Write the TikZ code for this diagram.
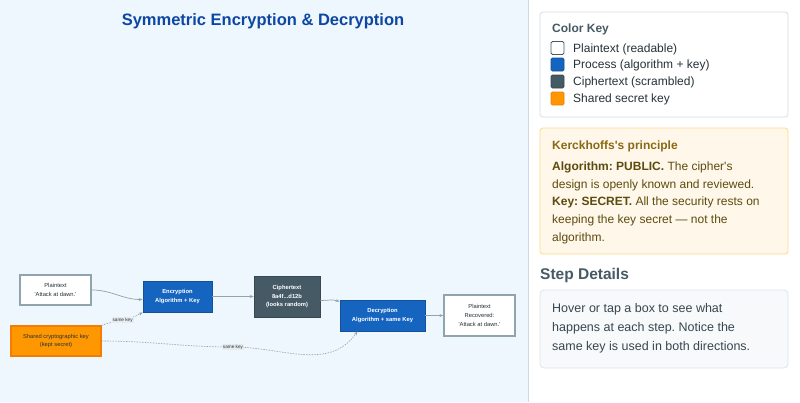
\documentclass[tikz,border=0pt]{standalone}
\usepackage{fontspec}
\setmainfont{Liberation Sans}
\usetikzlibrary{arrows.meta}
\frenchspacing
\definecolor{leftbg}{HTML}{EEF6FE}
\definecolor{panelline}{HTML}{CFD8E2}
\definecolor{titleblue}{HTML}{0D47A1}
\definecolor{procblue}{HTML}{1565C0}
\definecolor{cipher}{HTML}{455A64}
\definecolor{keyorange}{HTML}{FF9800}
\definecolor{keyborder}{HTML}{F57C00}
\definecolor{plainborder}{HTML}{90A4AE}
\definecolor{edgegray}{HTML}{90A4AE}
\definecolor{textdark}{HTML}{263238}
\definecolor{keyboxborder}{HTML}{D5DDE6}
\definecolor{kbg}{HTML}{FFF8EA}
\definecolor{kborder}{HTML}{FFD98A}
\definecolor{ktext}{HTML}{5D4A0E}
\definecolor{ktitle}{HTML}{8A6914}
\definecolor{stepbg}{HTML}{F7F9FB}
\definecolor{stepborder}{HTML}{DDE5EE}
\definecolor{steptext}{HTML}{37474F}
\definecolor{labelbg}{HTML}{E8ECEF}
\tikzset{
  box/.style={rectangle, inner sep=0pt, align=center, font=\fontsize{5.8}{8.7}\selectfont},
  plainbox/.style={box, fill=white, draw=plainborder, line width=1.2pt, text=textdark},
  procbox/.style={box, fill=procblue, draw=procblue!80!black, line width=0.6pt, text=white, font=\fontsize{5.8}{8.7}\selectfont\bfseries},
  cipherbox/.style={box, fill=cipher, draw=cipher!80!black, line width=0.6pt, text=white, font=\fontsize{5.8}{8.7}\selectfont\bfseries},
  keybox/.style={box, fill=keyorange, draw=keyborder, line width=1.2pt, text=textdark},
  flow/.style={draw=edgegray, line width=0.7pt, -{Stealth[length=4pt,width=3pt]}},
  keyflow/.style={draw=edgegray, line width=0.6pt, dash pattern=on 1.5pt off 1.2pt, -{Stealth[length=4pt,width=3pt]}},
  keylabel/.style={fill=labelbg, inner sep=1pt, font=\fontsize{4.7}{5}\selectfont, text=textdark},
  legendsq/.style={rectangle, rounded corners=1.5pt, minimum size=13pt, inner sep=0pt, line width=0.8pt},
  paneltext/.style={anchor=base west, inner sep=0pt, font=\fontsize{12}{14}\selectfont},
}
\begin{document}
\begin{tikzpicture}[x=1pt,y=-1pt]
\useasboundingbox (0,0) rectangle (800,402);
% panels
\fill[leftbg] (0,0) rectangle (528,402);
\fill[white] (528,0) rectangle (800,402);
\draw[panelline, line width=1pt] (528,0) -- (528,402);
% title
\node[anchor=base, inner sep=0pt, font=\fontsize{16.5}{20}\selectfont\bfseries, text=titleblue] (title) at (263,25) {Symmetric Encryption \& Decryption};
% nodes
\node[plainbox, minimum width=71pt, minimum height=30pt] (pt) at (55.5,290) {Plaintext\\\textquotesingle Attack at dawn.\textquotesingle};
\node[procbox, minimum width=69pt, minimum height=31pt] (enc) at (177.5,296.5) {Encryption\\Algorithm + Key};
\node[cipherbox, minimum width=66pt, minimum height=41pt] (ci) at (287,296.5) {Ciphertext\\8a4f...d12b\\(looks random)};
\node[procbox, minimum width=85pt, minimum height=31pt] (dec) at (382.5,315.5) {Decryption\\Algorithm + same Key};
\node[plainbox, minimum width=71pt, minimum height=41pt] (rec) at (479.5,315.5) {Plaintext\\Recovered:\\\textquotesingle Attack at dawn.\textquotesingle};
\node[keybox, minimum width=90pt, minimum height=30pt] (key) at (56,341) {Shared cryptographic key\\(kept secret)};
% connectors
\draw[flow] (pt.east) to[out=0,in=180] ([yshift=-3pt]enc.west);
\draw[flow] (enc.east) -- (ci.west);
\draw[flow] ([yshift=-4pt]ci.east) to[out=0,in=160] ([yshift=-2pt]dec.north west);
\draw[flow] (dec.east) -- (rec.west);
\draw[keyflow] (key.north east) to[out=20,in=210] node[keylabel, pos=0.5] (lbl1) {same key} (enc.south west);
\draw[keyflow] (key.east) to[out=0,in=180] (233,347) node[keylabel] (lbl2) {same key} to[out=0,in=235] ([xshift=-25pt]dec.south);
% color key panel
\draw[keyboxborder, fill=white, rounded corners=3pt, line width=0.8pt] (540,12) rectangle (788,117);
\node[paneltext, font=\fontsize{12}{14}\selectfont\bfseries, text=cipher] (cktitle) at (552,32.5) {Color Key};
\node[legendsq, fill=white, draw=cipher] (sq1) at (557.5,48) {};
\node[legendsq, fill=procblue, draw=procblue!80!black] (sq2) at (557.5,64.5) {};
\node[legendsq, fill=cipher, draw=cipher!80!black] (sq3) at (557.5,81.5) {};
\node[legendsq, fill=keyorange, draw=keyborder] (sq4) at (557.5,98.5) {};
\node[paneltext, text=textdark] (l1) at (573,52.3) {Plaintext (readable)};
\node[paneltext, text=textdark] (l2) at (573,68.8) {Process (algorithm + key)};
\node[paneltext, text=textdark] (l3) at (573,85.8) {Ciphertext (scrambled)};
\node[paneltext, text=textdark] (l4) at (573,102.8) {Shared secret key};
% Kerckhoffs panel
\draw[kborder, fill=kbg, rounded corners=3pt, line width=0.8pt] (540,128) rectangle (788,254);
\node[paneltext, font=\fontsize{12}{14}\selectfont\bfseries, text=ktitle] (ktitle) at (552,149.5) {Kerckhoffs\textquotesingle s principle};
\node[paneltext, text=ktext] (k1) at (552,170.5) {\textbf{Algorithm: PUBLIC.} The cipher\textquotesingle s};
\node[paneltext, text=ktext] (k2) at (552,188.3) {design is openly known and reviewed.};
\node[paneltext, text=ktext] (k3) at (552,205.8) {\textbf{Key: SECRET.} All the security rests on};
\node[paneltext, text=ktext] (k4) at (552,223.5) {keeping the key secret — not the};
\node[paneltext, text=ktext] (k5) at (552,241) {algorithm.};
% Step details
\node[paneltext, font=\fontsize{15.5}{18}\selectfont\bfseries, text=cipher] (sdtitle) at (540,279) {Step Details};
\draw[stepborder, fill=stepbg, rounded corners=4pt, line width=0.8pt] (540,290) rectangle (788,368);
\node[paneltext, font=\fontsize{12.5}{15}\selectfont, text=steptext] (s1) at (552,312.5) {Hover or tap a box to see what};
\node[paneltext, font=\fontsize{12.5}{15}\selectfont, text=steptext] (s2) at (552,331.5) {happens at each step. Notice the};
\node[paneltext, font=\fontsize{12.5}{15}\selectfont, text=steptext] (s3) at (552,350.5) {same key is used in both directions.};
\end{tikzpicture}
\end{document}
